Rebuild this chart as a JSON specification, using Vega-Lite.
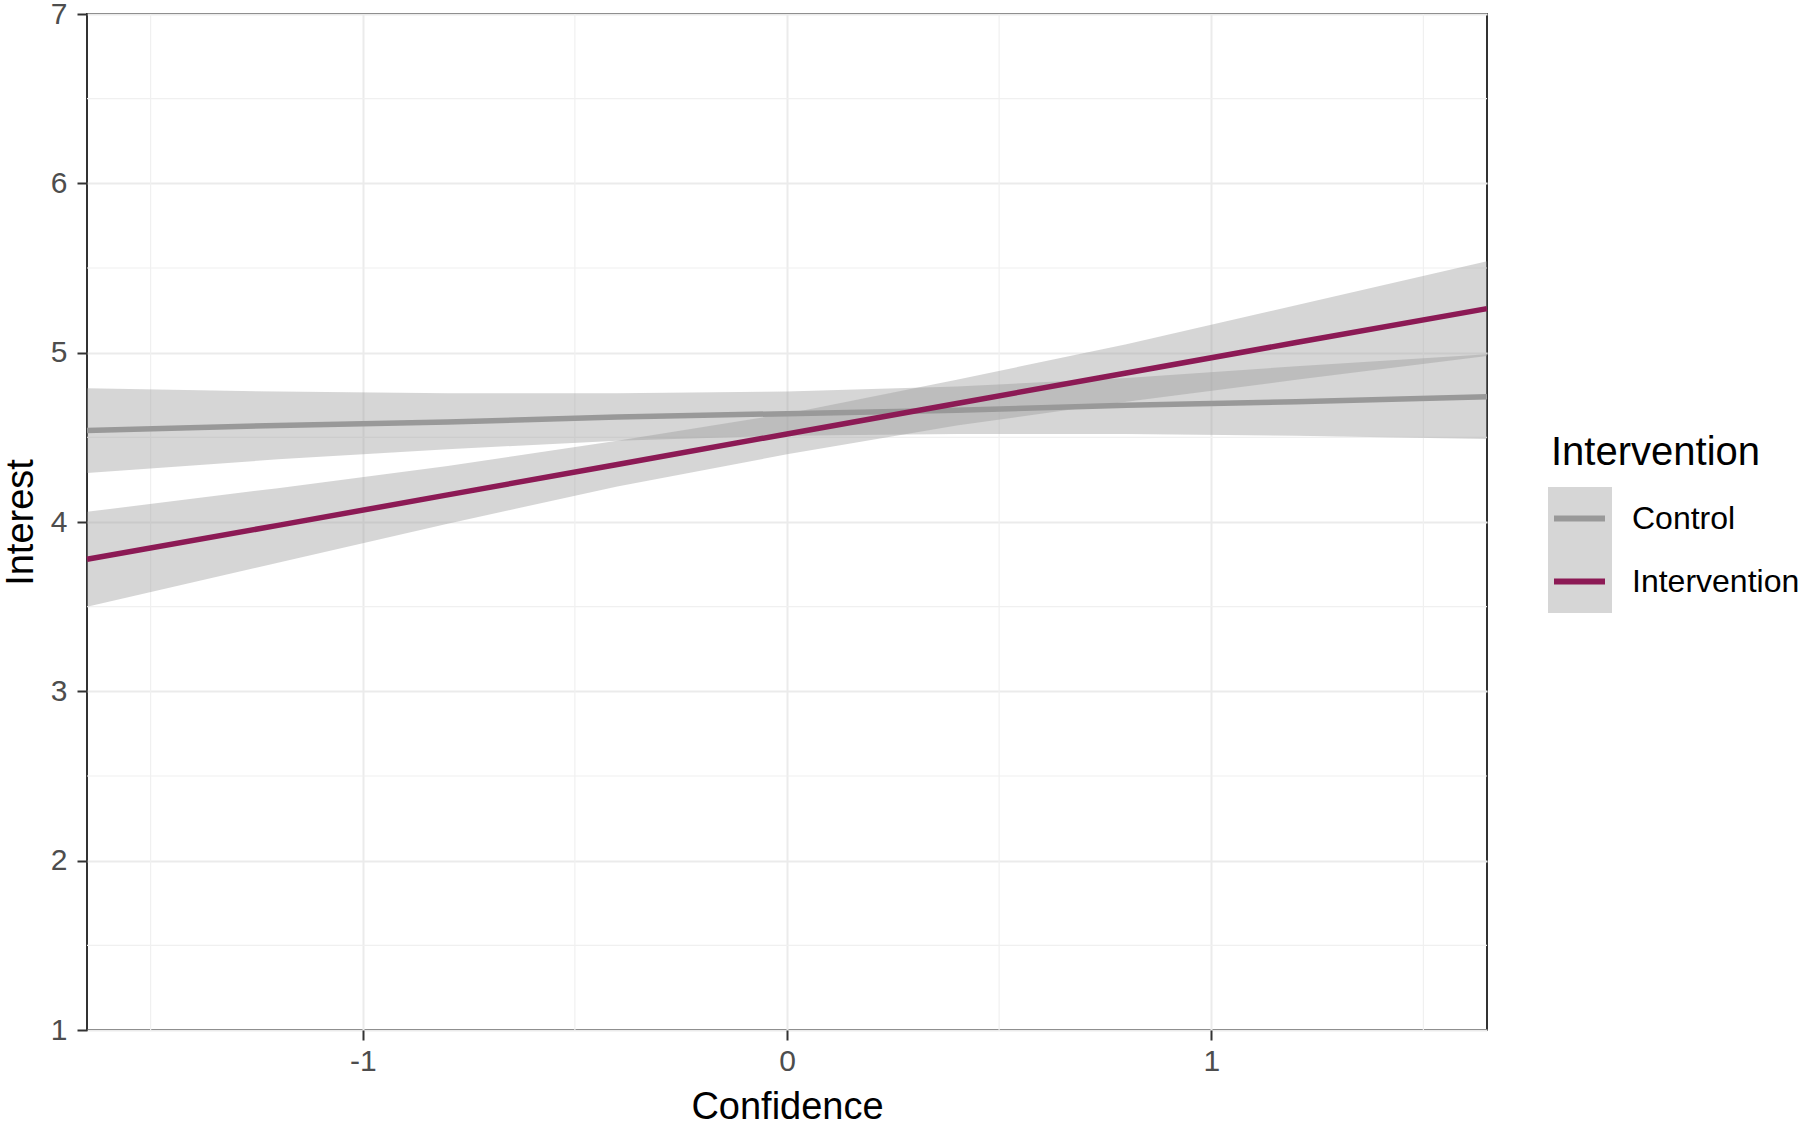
{
  "$schema": "https://vega.github.io/schema/vega-lite/v6.json",
  "width": 1400,
  "height": 1016,
  "autosize": {"type": "none"},
  "padding": {"left": 87, "top": 14, "right": 313, "bottom": 91},
  "background": "white",
  "config": {
    "font": "Liberation Sans",
    "view": {"stroke": "#333333", "strokeWidth": 2},
    "axis": {
      "domain": false,
      "grid": true,
      "gridColor": "#EBEBEB",
      "gridWidth": 2,
      "tickColor": "#333333",
      "tickWidth": 2,
      "tickSize": 10,
      "labelColor": "#4D4D4D",
      "labelFontSize": 30,
      "titleColor": "#000000",
      "titleFontSize": 38,
      "titleFontWeight": "normal"
    },
    "legend": {
      "titleFontSize": 40,
      "titleFontWeight": "normal",
      "titleColor": "#000000",
      "titleLimit": 500,
      "labelFontSize": 32,
      "labelColor": "#000000",
      "labelLimit": 500,
      "padding": 0,
      "rowPadding": 0
    }
  },
  "datasets": {
    "fits": [
      {"x": -1.65, "group": "Control", "series": "Control", "fit": 4.54, "lo": 4.29, "hi": 4.79},
      {"x": -1.2, "group": "Control", "series": "Control", "fit": 4.57, "lo": 4.37, "hi": 4.77},
      {"x": -0.8, "group": "Control", "series": "Control", "fit": 4.59, "lo": 4.43, "hi": 4.76},
      {"x": -0.4, "group": "Control", "series": "Control", "fit": 4.62, "lo": 4.48, "hi": 4.76},
      {"x": 0, "group": "Control", "series": "Control", "fit": 4.64, "lo": 4.51, "hi": 4.77},
      {"x": 0.4, "group": "Control", "series": "Control", "fit": 4.66, "lo": 4.52, "hi": 4.8},
      {"x": 0.8, "group": "Control", "series": "Control", "fit": 4.69, "lo": 4.52, "hi": 4.85},
      {"x": 1.2, "group": "Control", "series": "Control", "fit": 4.71, "lo": 4.51, "hi": 4.92},
      {"x": 1.65, "group": "Control", "series": "Control", "fit": 4.74, "lo": 4.49, "hi": 4.99},
      {"x": -1.65, "group": "Intervention", "series": "Intervention", "fit": 3.78, "lo": 3.5, "hi": 4.06},
      {"x": -1.2, "group": "Intervention", "series": "Intervention", "fit": 3.98, "lo": 3.76, "hi": 4.2},
      {"x": -0.8, "group": "Intervention", "series": "Intervention", "fit": 4.16, "lo": 3.99, "hi": 4.33},
      {"x": -0.4, "group": "Intervention", "series": "Intervention", "fit": 4.34, "lo": 4.21, "hi": 4.48},
      {"x": 0, "group": "Intervention", "series": "Intervention", "fit": 4.52, "lo": 4.4, "hi": 4.64},
      {"x": 0.4, "group": "Intervention", "series": "Intervention", "fit": 4.7, "lo": 4.57, "hi": 4.84},
      {"x": 0.8, "group": "Intervention", "series": "Intervention", "fit": 4.88, "lo": 4.71, "hi": 5.05},
      {"x": 1.2, "group": "Intervention", "series": "Intervention", "fit": 5.06, "lo": 4.84, "hi": 5.28},
      {"x": 1.65, "group": "Intervention", "series": "Intervention", "fit": 5.26, "lo": 4.98, "hi": 5.54}
    ],
    "minorx": [{"x": -1.5}, {"x": -0.5}, {"x": 0.5}, {"x": 1.5}],
    "minory": [{"lo": 1.5}, {"lo": 2.5}, {"lo": 3.5}, {"lo": 4.5}, {"lo": 5.5}, {"lo": 6.5}]
  },
  "encoding": {
    "x": {"field": "x", "type": "quantitative", "scale": {"domain": [-1.65, 1.65], "nice": false, "zero": false},
          "axis": {"values": [-1, 0, 1], "labelExpr": "'' + datum.value", "title": "Confidence", "labelPadding": 6, "titlePadding": 12}}
  },
  "layer": [
    {
      "data": {"name": "minorx"},
      "mark": {"type": "rule", "color": "#F0F0F0", "strokeWidth": 1.2},
      "encoding": {}
    },
    {
      "data": {"name": "minory"},
      "mark": {"type": "rule", "color": "#F0F0F0", "strokeWidth": 1.2},
      "encoding": {
        "x": null,
        "y": {"field": "lo", "type": "quantitative", "scale": {"domain": [1, 7], "nice": false, "zero": false},
              "axis": {"values": [1, 2, 3, 4, 5, 6, 7], "labelExpr": "'' + datum.value", "title": "Interest", "labelPadding": 10, "titlePadding": 10}}
      }
    },
    {
      "data": {"name": "fits"},
      "mark": {"type": "area", "opacity": 0.4},
      "encoding": {
        "y": {"field": "lo", "type": "quantitative", "scale": {"domain": [1, 7], "nice": false, "zero": false},
              "axis": {"values": [1, 2, 3, 4, 5, 6, 7], "labelExpr": "'' + datum.value", "title": "Interest", "labelPadding": 10, "titlePadding": 10}},
        "y2": {"field": "hi"},
        "fill": {"field": "group", "type": "nominal",
                 "scale": {"range": ["#999999", "#999999"]},
                 "legend": {"orient": "none", "legendX": 1461, "legendY": 473, "title": null,
                            "symbolType": "square", "symbolSize": 4096, "symbolOpacity": 0.4,
                            "symbolStrokeWidth": 0, "clipHeight": 63, "labelOpacity": 0, "labelOffset": 20}}
      }
    },
    {
      "data": {"name": "fits"},
      "mark": {"type": "line", "strokeWidth": 5.5},
      "encoding": {
        "y": {"field": "fit", "type": "quantitative", "title": "Interest"},
        "stroke": {"field": "series", "type": "nominal",
                   "scale": {"domain": ["Control", "Intervention"], "range": ["#999999", "#8C1A55"]},
                   "legend": {"orient": "none", "legendX": 1464, "legendY": 419, "title": "Intervention",
                              "titlePadding": 14, "symbolType": "stroke", "symbolSize": 2601,
                              "symbolStrokeWidth": 6, "clipHeight": 63, "labelOffset": 24}}
      }
    }
  ]
}
